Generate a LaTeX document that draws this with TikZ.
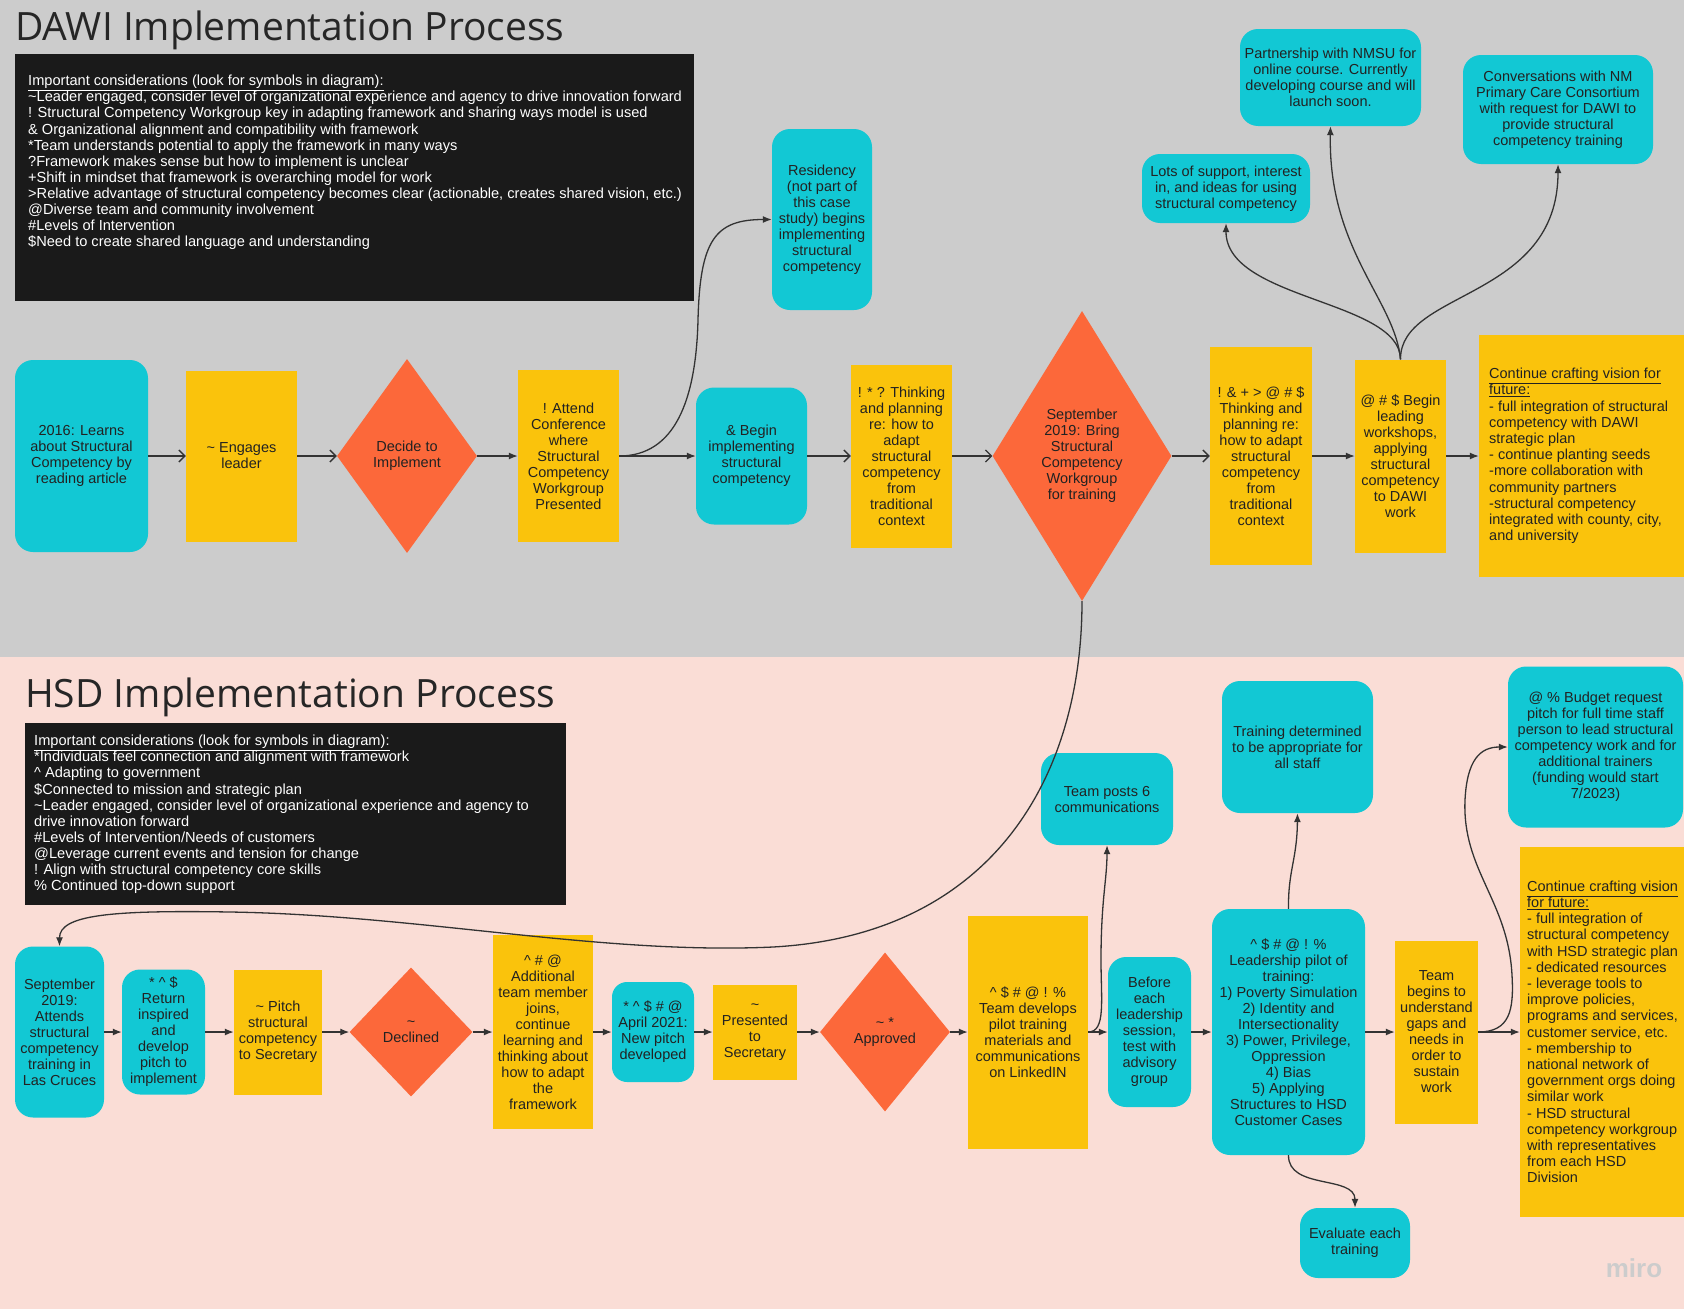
\documentclass[tikz,border=0pt]{standalone}
\usepackage{fontspec}
\setmainfont{Liberation Sans}
\newfontfamily\titlefont{Open Sans}
\usetikzlibrary{shapes.geometric,arrows.meta,positioning}

\definecolor{bggray}{RGB}{204,204,204}
\definecolor{bgpink}{RGB}{250,221,214}
\definecolor{cyannode}{RGB}{18,200,212}
\definecolor{yelnode}{RGB}{250,195,12}
\definecolor{orgnode}{RGB}{252,104,58}
\definecolor{noteblack}{RGB}{26,26,26}
\definecolor{inkdark}{RGB}{34,34,34}
\definecolor{linegray}{RGB}{51,51,51}

\tikzset{
  boxtext/.style={font=\fontsize{14.5}{16}\selectfont, text=inkdark, align=center, inner sep=1pt},
  cyanbox/.style={boxtext, fill=cyannode, rounded corners=18pt},
  yelbox/.style={boxtext, fill=yelnode},
  decision/.style={boxtext, diamond, fill=orgnode},
  notebg/.style={fill=noteblack, inner sep=0pt, anchor=north west},
  notetxt/.style={font=\fontsize{14.6}{16.1}\selectfont, text=white, align=left, inner sep=0pt, anchor=north west},
  listtxt/.style={font=\fontsize{14.5}{16.2}\selectfont, text=inkdark, align=left, inner sep=0pt, anchor=west},
  sectitle/.style={font=\titlefont\fontsize{39}{41}\selectfont, text=black!85, anchor=base west, inner sep=0pt},
  conn/.style={-{Latex[length=9pt,width=7pt]}, draw=linegray, line width=1.3pt},
  connopen/.style={-{Straight Barb[length=6pt,width=12pt]}, draw=linegray, line width=1.3pt},
}

\begin{document}
\begin{tikzpicture}[x=1pt, y=-1pt]
    \useasboundingbox (0,0) rectangle (1684,1309);
    % Backgrounds
    \fill[bggray] (0,0) rectangle (1684,657);
    \fill[bgpink] (0,657) rectangle (1684,1309);

    % DAWI title and notes
    \node[sectitle] (dawititle) at (15,40) {DAWI Implementation Process};
    \node[notebg, minimum width=679pt, minimum height=247pt] (dawinote) at (15,54) {};
    \node[notetxt] (dawinotetxt) at (28,75) {\underline{Important considerations (look for symbols in diagram):}\\
      \textasciitilde Leader engaged, consider level of organizational experience and agency to drive innovation forward\\
      ! Structural Competency Workgroup key in adapting framework and sharing ways model is used\\
      \& Organizational alignment and compatibility with framework\\
      *Team understands potential to apply the framework in many ways\\
      ?Framework makes sense but how to implement is unclear\\
      +Shift in mindset that framework is overarching model for work\\
      >Relative advantage of structural competency becomes clear (actionable, creates shared vision, etc.)\\
      @Diverse team and community involvement\\
      \#Levels of Intervention\\
      \$Need to create shared language and understanding};

    % DAWI row
    \node[cyanbox, minimum width=133pt, minimum height=192pt] (learns) at (81.5,456) {2016: Learns\\about Structural\\Competency by\\reading article};
    \node[yelbox, minimum width=111pt, minimum height=171pt] (engages) at (241.5,456) {\textasciitilde{} Engages\\leader};
    \node[decision, minimum width=140pt, minimum height=194pt] (decide) at (407,456) {Decide to\\Implement};
    \node[yelbox, minimum width=101pt, minimum height=172pt] (attend) at (568.5,456) {! Attend\\Conference\\where\\Structural\\Competency\\Workgroup\\Presented};
    \node[cyanbox, minimum width=100pt, minimum height=181pt] (residency) at (822,219.5) {Residency\\(not part of\\this case\\study) begins\\implementing\\structural\\competency};
    \node[cyanbox, minimum width=111pt, minimum height=137pt] (beginimpl) at (751.5,456) {\& Begin\\implementing\\structural\\competency};
    \node[yelbox, minimum width=101pt, minimum height=183pt] (thinkone) at (901.5,456) {! * ? Thinking\\and planning\\re: how to\\adapt\\structural\\competency\\from\\traditional\\context};
    \node[decision, minimum width=166pt, minimum height=290pt] (bringwg) at (1082,456) {September\\2019: Bring\\Structural\\Competency\\Workgroup\\for training};
    \node[yelbox, minimum width=102pt, minimum height=218pt] (thinktwo) at (1261,456) {! \& + > @ \# \$\\Thinking and\\planning re:\\how to adapt\\structural\\competency\\from\\traditional\\context};
    \node[yelbox, minimum width=91pt, minimum height=193pt] (workshops) at (1400.5,456) {@ \# \$ Begin\\leading\\workshops,\\applying\\structural\\competency\\to DAWI\\work};
    \node[yelbox, minimum width=205pt, minimum height=242pt] (vision) at (1581.5,456) {};
    \node[listtxt] (visiontxt) at (1489,456) {\underline{Continue crafting vision for}\\\underline{future:}\\- full integration of structural\\competency with DAWI\\strategic plan\\- continue planting seeds\\-more collaboration with\\community partners\\-structural competency\\integrated with county, city,\\and university};
    \node[cyanbox, minimum width=168pt, minimum height=69pt] (support) at (1226,188.5) {Lots of support, interest\\in, and ideas for using\\structural competency};
    \node[cyanbox, minimum width=181pt, minimum height=97pt] (nmsu) at (1330.5,77.5) {Partnership with NMSU for\\online course. Currently\\developing course and will\\launch soon.};
    \node[cyanbox, minimum width=190pt, minimum height=109pt] (nmpcc) at (1558,109.5) {Conversations with NM\\Primary Care Consortium\\with request for DAWI to\\provide structural\\competency training};

    % DAWI connectors
    \draw[connopen] (learns) -- (engages);
    \draw[connopen] (engages) -- (decide);
    \draw[conn] (decide) -- (attend);
    \draw[conn] (attend) -- (beginimpl);
    \draw[conn] (attend.east) .. controls (675,456) and (696,400) .. (698,320) .. controls (700,240) and (715,219.5) .. (residency.west);
    \draw[connopen] (beginimpl) -- (thinkone);
    \draw[connopen] (thinkone) -- (bringwg);
    \draw[connopen] (bringwg) -- (thinktwo);
    \draw[conn] (thinktwo) -- (workshops);
    \draw[conn] (workshops) -- (vision);
    \draw[conn] (workshops.north) .. controls (1400,300) and (1226,300) .. (support.south);
    \draw[conn] (workshops.north) .. controls (1395,300) and (1328,250) .. (nmsu.south);
    \draw[conn] (workshops.north) .. controls (1400,290) and (1558,300) .. (nmpcc.south);

    % HSD title and notes
    \node[sectitle] (hsdtitle) at (25,707) {HSD Implementation Process};
    \node[notebg, minimum width=541pt, minimum height=182pt] (hsdnote) at (25,723) {};
    \node[notetxt] (hsdnotetxt) at (34,735) {\underline{Important considerations (look for symbols in diagram):}\\
      *Individuals feel connection and alignment with framework\\
      \textasciicircum{} Adapting to government\\
      \$Connected to mission and strategic plan\\
      \textasciitilde Leader engaged, consider level of organizational experience and agency to\\
      drive innovation forward\\
      \#Levels of Intervention/Needs of customers\\
      @Leverage current events and tension for change\\
      ! Align with structural competency core skills\\
      \% Continued top-down support};

    % HSD row
    \node[cyanbox, minimum width=89pt, minimum height=171pt] (lascruces) at (59.5,1032) {September\\2019:\\Attends\\structural\\competency\\training in\\Las Cruces};
    \node[cyanbox, minimum width=83pt, minimum height=125pt] (returninsp) at (163.5,1032) {* \textasciicircum{} \$\\Return\\inspired\\and\\develop\\pitch to\\implement};
    \node[yelbox, minimum width=88pt, minimum height=125pt] (pitch) at (278,1032) {\textasciitilde{} Pitch\\structural\\competency\\to Secretary};
    \node[decision, minimum width=123pt, minimum height=129pt] (declined) at (411,1032) {\textasciitilde\\Declined};
    \node[yelbox, minimum width=100pt, minimum height=194pt] (addmember) at (543,1032) {\textasciicircum{} \# @\\Additional\\team member\\joins,\\continue\\learning and\\thinking about\\how to adapt\\the\\framework};
    \node[cyanbox, rounded corners=15pt, minimum width=82pt, minimum height=100pt] (newpitch) at (653,1032) {* \textasciicircum{} \$ \# @\\April 2021:\\New pitch\\developed};
    \node[yelbox, minimum width=84pt, minimum height=95pt] (presented) at (755,1032) {\textasciitilde\\Presented\\to\\Secretary};
    \node[decision, minimum width=130pt, minimum height=159pt] (approved) at (885,1032) {\textasciitilde{} *\\Approved};
    \node[yelbox, minimum width=120pt, minimum height=233pt] (pilotmat) at (1028,1032) {\textasciicircum{} \$ \# @ ! \%\\Team develops\\pilot training\\materials and\\communications\\on LinkedIN};
    \node[cyanbox, minimum width=83pt, minimum height=150pt] (advisory) at (1149.5,1032) {Before\\each\\leadership\\session,\\test with\\advisory\\group};
    \node[cyanbox, minimum width=132pt, minimum height=92pt] (posts) at (1107,799) {Team posts 6\\communications};
    \node[cyanbox, minimum width=153pt, minimum height=246pt] (leaderpilot) at (1288.5,1032) {\textasciicircum{} \$ \# @ ! \%\\Leadership pilot of\\training:\\1) Poverty Simulation\\2) Identity and\\Intersectionality\\3) Power, Privilege,\\Oppression\\4) Bias\\5) Applying\\Structures to HSD\\Customer Cases};
    \node[cyanbox, minimum width=151pt, minimum height=132pt] (alltraining) at (1297.5,747) {Training determined\\to be appropriate for\\all staff};
    \node[cyanbox, minimum width=110pt, minimum height=70pt] (evaluate) at (1355,1243) {Evaluate each\\training};
    \node[yelbox, minimum width=83pt, minimum height=183pt] (gaps) at (1436.5,1032) {Team\\begins to\\understand\\gaps and\\needs in\\order to\\sustain\\work};
    \node[cyanbox, minimum width=175pt, minimum height=161pt] (budget) at (1595.5,747) {@ \% Budget request\\pitch for full time staff\\person to lead structural\\competency work and for\\additional trainers\\(funding would start\\7/2023)};
    \node[yelbox, minimum width=164pt, minimum height=370pt] (hvision) at (1602,1032) {};
    \node[listtxt] (hvisiontxt) at (1527,1032) {\underline{Continue crafting vision}\\\underline{for future:}\\- full integration of\\structural competency\\with HSD strategic plan\\- dedicated resources\\- leverage tools to\\improve policies,\\programs and services,\\customer service, etc.\\- membership to\\national network of\\government orgs doing\\similar work\\- HSD structural\\competency workgroup\\with representatives\\from each HSD\\Division};

    % HSD connectors
    \draw[conn] (bringwg.south) .. controls (1082,780) and (990,935) .. (773,947) .. controls (600,955) and (420,915) .. (230,912) .. controls (110,910) and (59.5,915) .. (lascruces.north);
    \draw[conn] (lascruces) -- (returninsp);
    \draw[conn] (returninsp) -- (pitch);
    \draw[conn] (pitch) -- (declined);
    \draw[conn] (declined) -- (addmember);
    \draw[conn] (addmember) -- (newpitch);
    \draw[conn] (newpitch) -- (presented);
    \draw[conn] (presented) -- (approved);
    \draw[conn] (approved) -- (pilotmat);
    \draw[conn] (pilotmat) -- (advisory);
    \draw[conn] (pilotmat.east) .. controls (1106,1032) and (1101,1000) .. (1101,960) .. controls (1101,900) and (1107,880) .. (posts.south);
    \draw[conn] (advisory) -- (leaderpilot);
    \draw[conn] (leaderpilot.north) .. controls (1288,870) and (1297,860) .. (alltraining.south);
    \draw[conn] (leaderpilot.south) .. controls (1288,1190) and (1355,1175) .. (evaluate.north);
    \draw[conn] (leaderpilot) -- (gaps);
    \draw[conn] (gaps) -- (hvision);
    \draw[conn] (gaps.east) .. controls (1510,1032) and (1514,1010) .. (1512,975) .. controls (1508,900) and (1462,870) .. (1465,800) .. controls (1467,760) and (1480,747) .. (budget.west);

    % watermark
    \node[text=black!20, font=\fontsize{26}{26}\selectfont\bfseries] (miro) at (1634,1268) {miro};
\end{tikzpicture}
\end{document}
